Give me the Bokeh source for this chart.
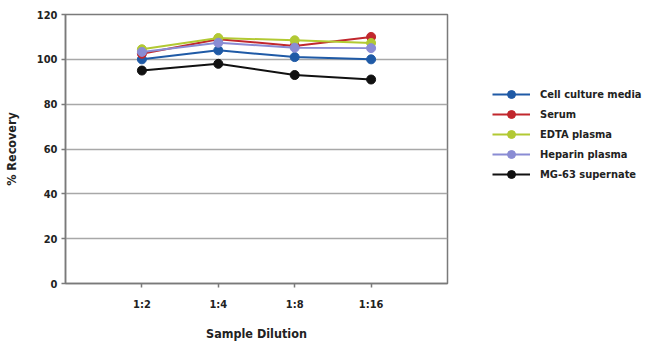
from bokeh.plotting import figure
from bokeh.models import Legend, LegendItem, FixedTicker, Range1d
from bokeh.layouts import row
from bokeh.embed import file_html
from bokeh.resources import INLINE

dilutions = ["1:2", "1:4", "1:8", "1:16"]
x_pos = [1, 2, 3, 4]
cell_culture = [100, 104, 101, 100]
serum = [102.5, 109, 106, 110]
edta = [104.5, 109.5, 108.5, 107.3]
heparin = [103.3, 107.4, 105.2, 105]
mg63 = [95, 98, 93, 91]
y_ticks = [0, 20, 40, 60, 80, 100, 120]

series = [
    ("Cell culture media", cell_culture, "#1f5aa6"),
    ("Serum", serum, "#c1272d"),
    ("EDTA plasma", edta, "#b2c933"),
    ("Heparin plasma", heparin, "#8a8cd4"),
    ("MG-63 supernate", mg63, "#111111"),
]

FONT = "DejaVu Sans Condensed"
TXT = "#222222"

p = figure(width=460, height=350, output_backend="svg", toolbar_location=None,
           x_range=Range1d(0, 5), y_range=Range1d(0, 120),
           min_border_left=64, min_border_right=13, min_border_top=14, min_border_bottom=67)
p.background_fill_color = "white"
p.border_fill_color = "white"
p.outline_line_color = "#7a7a7a"
p.outline_line_width = 1.5

for name, vals, col in series:
    p.line(x_pos, vals, line_color=col, line_width=2)
    p.scatter(x_pos, vals, size=9, fill_color=col, line_color=col)

p.xaxis.ticker = FixedTicker(ticks=x_pos)
p.xaxis.major_label_overrides = {x: d for x, d in zip(x_pos, dilutions)}
p.yaxis.ticker = FixedTicker(ticks=y_ticks)
p.xgrid.visible = False
p.ygrid.grid_line_color = "#a8a8a8"
p.ygrid.grid_line_width = 1.5

for ax in (p.xaxis, p.yaxis):
    ax.axis_line_color = "#7a7a7a"
    ax.axis_line_width = 1.5
    ax.major_tick_line_color = "#7a7a7a"
    ax.major_tick_line_width = 1.5
    ax.minor_tick_line_color = None
    ax.major_tick_in = 0
    ax.major_tick_out = 4
    ax.major_label_text_font = FONT
    ax.major_label_text_font_style = "bold"
    ax.major_label_text_font_size = "11px"
    ax.major_label_text_color = TXT
    ax.axis_label_text_font = FONT
    ax.axis_label_text_font_style = "bold"
    ax.axis_label_text_font_size = "12.5px"
    ax.axis_label_text_color = TXT

p.xaxis.axis_label = "Sample Dilution"
p.yaxis.axis_label = "% Recovery"
p.xaxis.major_label_standoff = 10
p.xaxis.axis_label_standoff = 12
p.yaxis.major_label_standoff = 4
p.yaxis.axis_label_standoff = 15

# legend panel (separate figure, data drawn outside its visible range)
q = figure(width=190, height=350, output_backend="svg", toolbar_location=None,
           x_range=Range1d(100, 101), y_range=Range1d(0, 120),
           min_border=0)
q.axis.visible = False
q.grid.visible = False
q.outline_line_color = None
q.background_fill_color = "white"
q.border_fill_color = "white"

items = []
for name, vals, col in series:
    r1 = q.line(x_pos, vals, line_color=col, line_width=2)
    r2 = q.scatter(x_pos, vals, size=8, fill_color=col, line_color=col)
    items.append(LegendItem(label=name, renderers=[r1, r2]))

legend = Legend(items=items, location=(32, 99), orientation="vertical",
                border_line_color=None, background_fill_alpha=0,
                padding=0, margin=0, spacing=0, glyph_width=38, glyph_height=20,
                label_height=20, label_standoff=10,
                label_text_font=FONT, label_text_font_style="bold",
                label_text_font_size="11px", label_text_color=TXT)
q.add_layout(legend, "center")

layout = row(p, q, spacing=0)
open("out.html", "w").write(file_html(layout, INLINE))
